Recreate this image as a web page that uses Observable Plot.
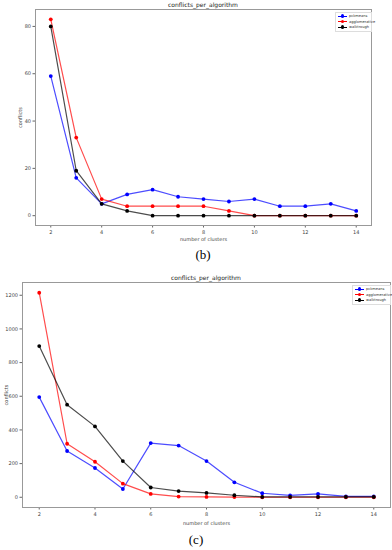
<!DOCTYPE html>
<html>
<head>
<meta charset="utf-8">
<script src="https://cdn.jsdelivr.net/npm/d3@7"></script>
<script src="https://cdn.jsdelivr.net/npm/@observablehq/plot@0.6"></script>
<style>
  html, body { margin: 0; padding: 0; background: #fff; }
  body { width: 392px; height: 550px; position: relative; overflow: hidden; font-family: "DejaVu Sans", sans-serif; }
  .panel { position: absolute; left: 0; }
  .title { position: absolute; font-size: 6px; color: #222; text-align: center; }
  .cap { position: absolute; font-family: "Liberation Serif", serif; font-size: 13px; color: #000; text-align: center; }
  .legend { position: absolute; background: #fff; border: 0.5px solid #ddd; font-size: 3.6px; color: #333; }
  .legend .row { position: absolute; left: 2px; height: 5px; display: flex; align-items: center; }
  .legend .sym { position: relative; width: 9px; height: 5px; }
  .legend .sym .ln { position: absolute; left: 0; right: 0; top: 2px; height: 1px; }
  .legend .sym .mk { position: absolute; left: 3px; top: 0.8px; width: 3.4px; height: 3.4px; border-radius: 50%; }
  .legend .lab { margin-left: 2px; }
</style>
</head>
<body>
<div id="root"></div>
<script>
// ---------- data ----------
const clusters = [2, 3, 4, 5, 6, 7, 8, 9, 10, 11, 12, 13, 14];
const seriesNames = ["pckmeans", "agglomerative", "walktrough"];
const seriesColors = ["#0000ff", "#ff0000", "#000000"];

// panel (b)
const bPckmeans      = [59, 16, 5, 9, 11, 8, 7, 6, 7, 4, 4, 5, 2];
const bAgglomerative = [83, 33, 7, 4, 4, 4, 4, 2, 0, 0, 0, 0, 0];
const bWalktrough    = [80, 19, 5, 2, 0, 0, 0, 0, 0, 0, 0, 0, 0];
const bYTicks = [0, 20, 40, 60, 80];

// panel (c)
const cPckmeans      = [595, 275, 174, 49, 322, 307, 215, 89, 24, 11, 20, 5, 5];
const cAgglomerative = [1215, 318, 211, 81, 20, 4, 2, 1, 0, 0, 0, 0, 0];
const cWalktrough    = [898, 550, 421, 215, 58, 37, 26, 12, 2, 2, 2, 2, 2];
const cYTicks = [0, 200, 400, 600, 800, 1000, 1200];

const xTicks = [2, 4, 6, 8, 10, 12, 14];
const titleText = "conflicts_per_algorithm";
const xLabel = "number of clusters";
const yLabel = "conflicts";

function toRows(arrs) {
  const rows = [];
  arrs.forEach((a, si) => a.forEach((v, i) => rows.push({series: seriesNames[si], x: clusters[i], y: v})));
  return rows;
}

function margin5(vals) {
  const lo = d3.min(vals), hi = d3.max(vals), m = (hi - lo) * 0.05;
  return [lo - m, hi + m];
}

function makePanel(opt) {
  const rows = toRows(opt.arrs);
  const lineOpacity = 0.7;
  const plot = Plot.plot({
    width: 392,
    height: opt.height,
    marginLeft: opt.ml, marginRight: opt.mr, marginTop: opt.mt, marginBottom: opt.mb,
    style: {fontFamily: "DejaVu Sans, sans-serif", fontSize: "5px", color: "#444", background: "transparent"},
    x: {domain: margin5(clusters)},
    y: {domain: margin5(rows.map(d => d.y))},
    color: {domain: seriesNames, range: seriesColors},
    marks: [
      Plot.axisX({ticks: xTicks, tickSize: 2.5, tickPadding: 2, fontSize: 5, stroke: "#666", tickFormat: d3.format("d"),
        label: xLabel, labelAnchor: "center", labelOffset: opt.xlo, labelArrow: "none"}),
      Plot.axisY({ticks: opt.yTicks, tickSize: 2.5, tickPadding: 2, fontSize: 5, stroke: "#666", tickFormat: d3.format("d"),
        label: yLabel, labelAnchor: "center", labelOffset: opt.ylo, labelArrow: "none"}),
      Plot.line(rows, {x: "x", y: "y", z: "series", stroke: "series", strokeWidth: 1.2, strokeOpacity: lineOpacity}),
      Plot.dot(rows, {x: "x", y: "y", fill: "series", r: 1.9}),
      Plot.frame({stroke: "#999", strokeWidth: 1})
    ]
  });
  const div = document.createElement("div");
  div.className = "panel";
  div.style.top = opt.top + "px";
  div.appendChild(plot);
  document.body.appendChild(div);

  const t = document.createElement("div");
  t.className = "title";
  t.textContent = titleText;
  t.style.left = opt.ml + "px";
  t.style.width = (392 - opt.ml - opt.mr) + "px";
  t.style.top = (opt.top + opt.mt - 8) + "px";
  document.body.appendChild(t);

  const lg = document.createElement("div");
  lg.className = "legend";
  lg.style.left = opt.lg[0] + "px"; lg.style.top = opt.lg[1] + "px";
  lg.style.width = opt.lg[2] + "px"; lg.style.height = opt.lg[3] + "px";
  seriesNames.forEach((s, i) => {
    const r = document.createElement("div");
    r.className = "row";
    r.style.top = (0.5 + i * 5.5) + "px";
    r.innerHTML = `<div class="sym"><div class="ln" style="background:${seriesColors[i]}"></div><div class="mk" style="background:${seriesColors[i]}"></div></div><span class="lab">${s}</span>`;
    lg.appendChild(r);
  });
  document.body.appendChild(lg);

  const c = document.createElement("div");
  c.className = "cap";
  c.textContent = opt.caption;
  c.style.left = (opt.capX - 30) + "px"; c.style.width = "60px";
  c.style.top = opt.capY + "px";
  document.body.appendChild(c);
}

makePanel({arrs: [bPckmeans, bAgglomerative, bWalktrough], yTicks: bYTicks,
  top: 0, height: 245, ml: 35, mr: 21, mt: 9, mb: 20, xlo: 15, ylo: 17,
  lg: [335, 12, 35, 18], caption: "(b)", capX: 203, capY: 247});

makePanel({arrs: [cPckmeans, cAgglomerative, cWalktrough], yTicks: cYTicks,
  top: 265, height: 265, ml: 22, mr: 2, mt: 17, mb: 23, xlo: 17, ylo: 18,
  lg: [352, 285, 37, 18], caption: "(c)", capX: 196, capY: 532});
</script>
</body>
</html>
